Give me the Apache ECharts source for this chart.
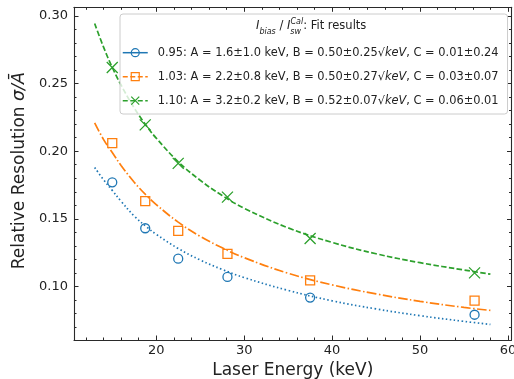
<!DOCTYPE html>
<html><head><meta charset="utf-8">
<script src="https://cdn.jsdelivr.net/npm/echarts@6/dist/echarts.min.js"></script>
<style>html,body{margin:0;padding:0;background:#fff}#c{width:514px;height:379px}</style>
</head><body><div id="c"></div>
<script>
// ---- data ----
const laserEnergy = [15.0, 18.75, 22.5, 28.1, 37.5, 56.2];
const res095 = [0.177, 0.143, 0.1205, 0.107, 0.0917, 0.079];
const res103 = [0.206, 0.163, 0.141, 0.124, 0.1044, 0.0895];
const res110 = [0.262, 0.2195, 0.191, 0.166, 0.1354, 0.110];

const fitEnergy = [13, 14, 15, 16, 17.5, 19, 20, 22.5, 25, 27.5, 30, 35, 40, 45, 50, 55, 58];
const fit095 = [0.188, 0.179, 0.171, 0.163, 0.152, 0.1435, 0.1385, 0.128, 0.1195, 0.1125, 0.1065, 0.097, 0.0893, 0.0833, 0.0783, 0.0741, 0.0718];
const fit103 = [0.221, 0.2088, 0.199, 0.1895, 0.177, 0.1665, 0.1605, 0.1475, 0.137, 0.1285, 0.1212, 0.1097, 0.1011, 0.0944, 0.0889, 0.0844, 0.0822];
const fit110 = [0.2945, 0.2772, 0.262, 0.249, 0.232, 0.2178, 0.2097, 0.1922, 0.1785, 0.1672, 0.1578, 0.1433, 0.1325, 0.1241, 0.1175, 0.1121, 0.109];

const seriesNames = ['0.95', '1.03', '1.10'];
const fitA = ['1.6±1.0', '2.2±0.8', '3.2±0.2'];
const fitB = ['0.50±0.25', '0.50±0.27', '0.52±0.07'];
const fitC = ['0.01±0.24', '0.03±0.07', '0.06±0.01'];

const xMajorTicks = [20, 30, 40, 50, 60];
const xMinorTicks = [12, 14, 16, 18, 22, 24, 26, 28, 32, 34, 36, 38, 42, 44, 46, 48, 52, 54, 56, 58];
const yMajorTicks = [0.10, 0.15, 0.20, 0.25, 0.30];
const yMinorTicks = [0.07, 0.08, 0.09, 0.11, 0.12, 0.13, 0.14, 0.16, 0.17, 0.18, 0.19, 0.21, 0.22, 0.23, 0.24, 0.26, 0.27, 0.28, 0.29];

// ---- styling / layout ----
const FONT = 'DejaVu Sans';
const colors = ['#1f77b4', '#ff7f0e', '#2ca02c'];
const fitDash = [[1.5, 2.5], [9.6, 2.4, 1.5, 2.4], [5.5, 2.4]];
const legendDash = ['solid', [5, 2.5], [5, 2.5]];
const symbols = ['circle', 'rect', 'path://M0,0L10,10M10,0L0,10'];
const symbolSizes = [9, 9, 11];
const resData = [res095, res103, res110];
const fitData = [fit095, fit103, fit110];
const XMIN = 10.65, XMAX = 60.4, YMIN = 0.0603, YMAX = 0.3065;
const AX = '#2a2a2a';

function xAxis(position, ticks, len, main) {
  return {
    type: 'value', position: position, min: XMIN, max: XMAX,
    axisLine: { show: main, onZero: false, lineStyle: { color: AX, width: 1.1 } },
    axisTick: { show: true, inside: true, length: len, customValues: ticks, lineStyle: { color: AX, width: 1 } },
    axisLabel: { show: main && position === 'bottom', customValues: ticks, margin: 4,
      fontFamily: FONT, fontSize: 13, color: '#222' },
    splitLine: { show: false }
  };
}
function yAxis(position, ticks, len, main) {
  return {
    type: 'value', position: position, min: YMIN, max: YMAX,
    axisLine: { show: main, onZero: false, lineStyle: { color: AX, width: 1.1 } },
    axisTick: { show: true, inside: true, length: len, customValues: ticks, lineStyle: { color: AX, width: 1 } },
    axisLabel: { show: main && position === 'left', customValues: ticks, margin: 6,
      fontFamily: FONT, fontSize: 13, color: '#222', formatter: v => v.toFixed(2) },
    splitLine: { show: false }
  };
}

const xAxes = [
  xAxis('bottom', xMajorTicks, 4.5, true),
  xAxis('bottom', xMinorTicks, 2.5, false),
  xAxis('top', xMajorTicks, 4.5, true),
  xAxis('top', xMinorTicks, 2.5, false)
];
Object.assign(xAxes[0], { name: 'Laser Energy (keV)', nameLocation: 'middle', nameGap: 21,
  nameTextStyle: { fontFamily: FONT, fontSize: 17, color: '#222' } });
const yAxes = [
  yAxis('left', yMajorTicks, 4.5, true),
  yAxis('left', yMinorTicks, 2.5, false),
  yAxis('right', yMajorTicks, 4.5, true),
  yAxis('right', yMinorTicks, 2.5, false)
];
Object.assign(yAxes[0], { name: '{n|Relative Resolution }{it|σ/Ā}', nameLocation: 'middle', nameGap: 34,
  nameTextStyle: { fontFamily: FONT, fontSize: 17, color: '#222', padding: [0, 0, 0, 6],
    rich: { n: { fontFamily: FONT, fontSize: 17, color: '#222' },
            it: { fontFamily: FONT, fontSize: 17.5, fontStyle: 'italic', color: '#222' } } } });

const series = [];
for (let i = 0; i < 3; i++) {
  series.push({
    type: 'line', name: 'fit' + seriesNames[i], xAxisIndex: 0, yAxisIndex: 0,
    data: fitEnergy.map((e, k) => [e, fitData[i][k]]),
    smooth: 0.4, symbol: 'none', silent: true, z: 2,
    lineStyle: { color: colors[i], width: 1.7, type: fitDash[i], cap: 'butt' }
  });
}
for (let i = 0; i < 3; i++) {
  series.push({
    type: 'line', name: seriesNames[i], xAxisIndex: 0, yAxisIndex: 0,
    data: laserEnergy.map((e, k) => [e, resData[i][k]]),
    symbol: symbols[i], symbolSize: symbolSizes[i], showSymbol: true, silent: true, z: 3,
    lineStyle: { color: colors[i], width: 0 },
    itemStyle: { color: 'transparent', borderColor: colors[i], borderWidth: 1.3 }
  });
}

const legendTxt = { fontFamily: FONT, fontSize: 11.4, color: '#222', lineHeight: 14 };
const tNorm = { fontFamily: FONT, fontWeight: 'normal', color: '#222' };
const option = {
  animation: false,
  backgroundColor: '#fff',
  grid: { left: 74, right: 2.5, top: 7.3, bottom: 39, containLabel: false, outerBoundsMode: 'none' },
  xAxis: xAxes,
  yAxis: yAxes,
  title: {
    text: '{i|I}{sub|bias}{n| / }{i|I}{sub0|sw}{sup|Cal}{n|: Fit results}',
    left: 256, top: 17.5, padding: 0,
    textStyle: {
      fontWeight: 'normal',
      rich: {
        n: Object.assign({}, tNorm, { fontSize: 11.5, lineHeight: 18 }),
        i: Object.assign({}, tNorm, { fontSize: 11.5, fontStyle: 'italic', lineHeight: 18 }),
        sub: Object.assign({}, tNorm, { fontSize: 8, fontStyle: 'italic', lineHeight: 9, verticalAlign: 'bottom' }),
        sub0: Object.assign({}, tNorm, { fontSize: 8, fontStyle: 'italic', lineHeight: 9, verticalAlign: 'bottom', width: 0.1 }),
        sup: Object.assign({}, tNorm, { fontSize: 8, fontStyle: 'italic', lineHeight: 9, verticalAlign: 'top' })
      }
    }
  },
  legend: {
    left: 120, top: 14, orient: 'vertical',
    padding: [31.7, 9, 6.3, 2], itemGap: 10, itemWidth: 25, itemHeight: 10,
    backgroundColor: 'rgba(255,255,255,0.8)', borderColor: '#cccccc', borderWidth: 1, borderRadius: 3,
    selectedMode: false,
    data: seriesNames.map((n, i) => ({
      name: n,
      lineStyle: { color: colors[i], width: 1.5, type: legendDash[i], opacity: 1 },
      itemStyle: { color: 'transparent', borderColor: colors[i], borderWidth: 1.2 }
    })),
    formatter: function (name) {
      const i = seriesNames.indexOf(name);
      return '{n|' + name + ': A = ' + fitA[i] + ' keV, B = ' + fitB[i] + '√}{it|keV}{n|, C = ' + fitC[i] + '}';
    },
    textStyle: Object.assign({}, legendTxt, { padding: [0, 0, 0, 5],
      rich: { n: legendTxt, it: Object.assign({}, legendTxt, { fontStyle: 'italic' }) } })
  },
  series: series
};
const chart = echarts.init(document.getElementById('c'), null, { renderer: 'canvas' });
chart.setOption(option);
</script></body></html>
